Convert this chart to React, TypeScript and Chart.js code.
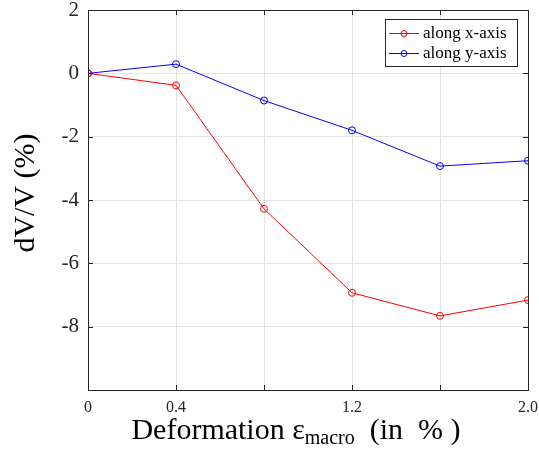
import React, { useEffect, useRef } from "react";
import { Chart, registerables } from "chart.js";

Chart.register(...registerables);

const xValues = [0, 0.4, 0.8, 1.2, 1.6, 2.0];
const alongX = [0, -0.38, -4.28, -6.93, -7.66, -7.16];
const alongY = [0, 0.29, -0.86, -1.8, -2.93, -2.76];
const xTickLabels = ["0", "0.4", "", "1.2", "", "2.0"];
const yTickLabels = ["-10", "-8", "-6", "-4", "-2", "0", "2"];
const seriesNames = ["along x-axis", "along y-axis"];
const seriesColors = ["#ff0000", "#0000ff"];

const SERIF = "'Liberation Serif', 'Times New Roman', serif";
const AXIS_COLOR = "#262626";

const framePlugin = {
  id: "frame",
  afterDraw(chart: any) {
    const { ctx, chartArea } = chart;
    const { left, right, top, bottom } = chartArea;
    const xs = chart.scales.x;
    const ys = chart.scales.y;
    ctx.save();
    // box
    ctx.strokeStyle = AXIS_COLOR;
    ctx.lineWidth = 1;
    ctx.strokeRect(Math.round(left) + 0.5, Math.round(top) + 0.5, Math.round(right - left), Math.round(bottom - top));
    // inward ticks
    const tl = 5;
    ctx.beginPath();
    xs.ticks.forEach((t: any) => {
      const px = Math.round(xs.getPixelForValue(t.value)) + 0.5;
      ctx.moveTo(px, bottom);
      ctx.lineTo(px, bottom - tl);
      ctx.moveTo(px, top);
      ctx.lineTo(px, top + tl);
    });
    ys.ticks.forEach((t: any) => {
      const py = Math.round(ys.getPixelForValue(t.value)) + 0.5;
      ctx.moveTo(left, py);
      ctx.lineTo(left + tl, py);
      ctx.moveTo(right, py);
      ctx.lineTo(right - tl, py);
    });
    ctx.stroke();

    // legend
    const lx = 385, ly = 19, lw = 132, lh = 47;
    ctx.fillStyle = "#ffffff";
    ctx.fillRect(lx, ly, lw, lh);
    ctx.strokeStyle = AXIS_COLOR;
    ctx.strokeRect(lx + 0.5, ly + 0.5, lw, lh);
    const rows = [33.5, 53.5];
    seriesNames.forEach((name, i) => {
      const y = rows[i];
      ctx.strokeStyle = seriesColors[i];
      ctx.lineWidth = 1;
      ctx.beginPath();
      ctx.moveTo(389, y);
      ctx.lineTo(419, y);
      ctx.stroke();
      ctx.beginPath();
      ctx.arc(404, y, 3, 0, Math.PI * 2);
      ctx.stroke();
      ctx.fillStyle = "#000000";
      ctx.font = `17px ${SERIF}`;
      ctx.textAlign = "left";
      ctx.textBaseline = "middle";
      ctx.fillText(name, 423, y);
    });

    // x-axis title with subscript
    ctx.fillStyle = "#000000";
    ctx.textBaseline = "alphabetic";
    ctx.textAlign = "left";
    const big = `30px ${SERIF}`;
    const small = `20px ${SERIF}`;
    const p1 = "Deformation ε";
    const p2 = "macro";
    const p3 = "  (in  % )";
    ctx.font = big;
    const w1 = ctx.measureText(p1).width;
    const w3 = ctx.measureText(p3).width;
    ctx.font = small;
    const w2 = ctx.measureText(p2).width;
    const total = w1 + w2 + w3;
    const x0 = 296 - total / 2;
    const by = 439;
    ctx.font = big;
    ctx.fillText(p1, x0, by);
    ctx.font = small;
    ctx.fillText(p2, x0 + w1, by + 5);
    ctx.font = big;
    ctx.fillText(p3, x0 + w1 + w2, by);

    // y-axis title
    ctx.save();
    ctx.translate(34, 193);
    ctx.rotate(-Math.PI / 2);
    ctx.font = `30px ${SERIF}`;
    ctx.textAlign = "center";
    ctx.textBaseline = "alphabetic";
    ctx.fillText("dV/V (%)", 0, 0);
    ctx.restore();

    ctx.restore();
  },
};

export default function App() {
  const ref = useRef<HTMLCanvasElement>(null);
  useEffect(() => {
    const canvas = ref.current!;
    const chart = new Chart(canvas, {
      type: "line",
      data: {
        datasets: [
          {
            label: seriesNames[0],
            data: xValues.map((x, i) => ({ x, y: alongX[i] })),
            borderColor: seriesColors[0],
            backgroundColor: "transparent",
            borderWidth: 1,
            pointRadius: 3.5,
            pointBorderWidth: 1,
            pointBackgroundColor: "transparent",
            pointBorderColor: seriesColors[0],
          },
          {
            label: seriesNames[1],
            data: xValues.map((x, i) => ({ x, y: alongY[i] })),
            borderColor: seriesColors[1],
            backgroundColor: "transparent",
            borderWidth: 1,
            pointRadius: 3.5,
            pointBorderWidth: 1,
            pointBackgroundColor: "transparent",
            pointBorderColor: seriesColors[1],
          },
        ],
      },
      options: {
        animation: false,
        responsive: false,
        maintainAspectRatio: false,
        layout: { padding: { left: 0, right: 11, top: 10, bottom: 0 } },
        plugins: { legend: { display: false }, tooltip: { enabled: false } },
        scales: {
          x: {
            type: "linear",
            min: 0,
            max: 2,
            border: { display: false },
            grid: { color: "#e3e3e3", lineWidth: 1, drawTicks: false },
            ticks: {
              stepSize: 0.4,
              color: "#262626",
              font: { family: SERIF, size: 16 },
              padding: 8,
              maxRotation: 0,
              autoSkip: false,
              callback: (_v: any, i: number) => xTickLabels[i],
            },
            afterFit: (s: any) => {
              s.height = 63;
              s.paddingLeft = 0;
              s.paddingRight = 0;
            },
          },
          y: {
            min: -10,
            max: 2,
            border: { display: false },
            grid: { color: "#e3e3e3", lineWidth: 1, drawTicks: false },
            ticks: {
              stepSize: 2,
              color: "#262626",
              font: { family: SERIF, size: 21 },
              padding: 9,
              callback: (_v: any, i: number) => (i === 0 ? "" : yTickLabels[i]),
            },
            afterFit: (s: any) => {
              s.width = 88;
              s.paddingTop = 0;
              s.paddingBottom = 0;
            },
          },
        },
      },
      plugins: [framePlugin],
    });
    return () => chart.destroy();
  }, []);
  return (
    <div style={{ position: "fixed", left: 0, top: 0, width: 539, height: 453, background: "#fff" }}>
      <canvas ref={ref} width={539} height={453} style={{ width: 539, height: 453 }} />
    </div>
  );
}
